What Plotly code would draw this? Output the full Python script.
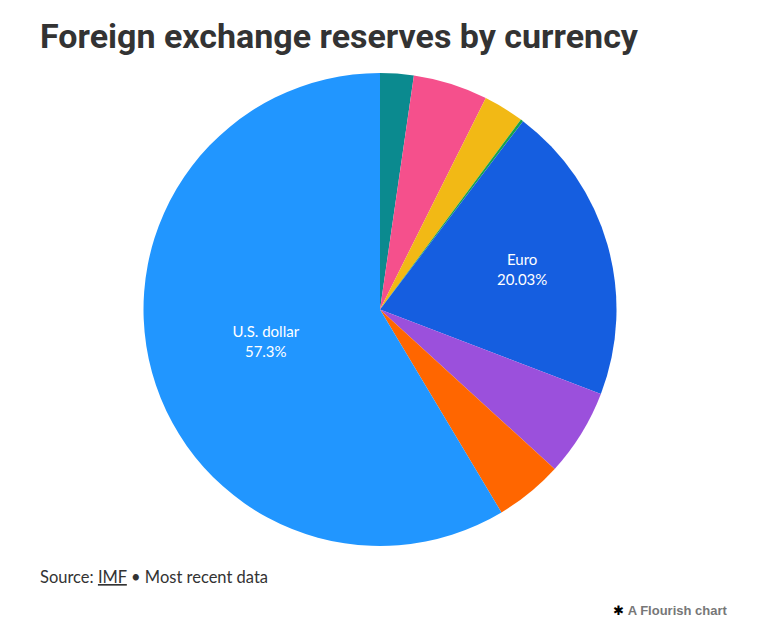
import plotly.graph_objects as go

# Data (clockwise from 12 o'clock)
currencies = ["Chinese renminbi", "British pound", "Canadian dollar", "Swiss franc",
              "Euro", "Japanese yen", "Other currencies", "U.S. dollar"]
shares = [2.24, 4.98, 2.72, 0.17, 20.03, 5.83, 4.54, 57.3]
colors = ["#0b8a8f", "#f5508c", "#f2b915", "#18a34a",
          "#155ee0", "#9b50dc", "#ff6600", "#2196ff"]
labelled = ["Euro", "U.S. dollar"]

templates = ["%{label}<br>%{value}%" if c in labelled else "" for c in currencies]

W, H = 758, 638
OFF = 8  # page margin offset
cx, cy, r = 380 - OFF, 309.5 - OFF, 236.5

fig = go.Figure(go.Pie(
    labels=currencies,
    values=shares,
    sort=False,
    direction="clockwise",
    rotation=0,
    marker=dict(colors=colors, line=dict(width=0)),
    texttemplate=templates,
    textposition="inside",
    insidetextorientation="horizontal",
    insidetextfont=dict(color="white", size=15, family="Lato"),
    showlegend=False,
    domain=dict(x=[(cx - r) / W, (cx + r) / W], y=[1 - (cy + r) / H, 1 - (cy - r) / H]),
))

fig.update_layout(
    width=W, height=H,
    margin=dict(l=0, r=0, t=0, b=0),
    paper_bgcolor="white",
    plot_bgcolor="white",
    annotations=[
        dict(text="<b>Foreign exchange reserves by currency</b>", x=(38 - OFF) / W, y=1 - (36 - OFF) / H,
             xref="paper", yref="paper", xanchor="left", yanchor="middle", showarrow=False,
             font=dict(size=34, color="#333333", family="Roboto")),
        dict(text="Source: <u>IMF</u> • Most recent data", x=(38 - OFF) / W, y=1 - (577 - OFF) / H,
             xref="paper", yref="paper", xanchor="left", yanchor="middle", showarrow=False,
             font=dict(size=16.5, color="#333333", family="Lato")),
        dict(text="<span style='color:#000000'>✱</span> <b>A Flourish chart</b>", x=(729 - OFF) / W, y=1 - (610 - OFF) / H,
             xref="paper", yref="paper", xanchor="right", yanchor="middle", showarrow=False,
             font=dict(size=13, color="#777777", family="Liberation Sans")),
    ],
)

fig.write_html("out.html")
